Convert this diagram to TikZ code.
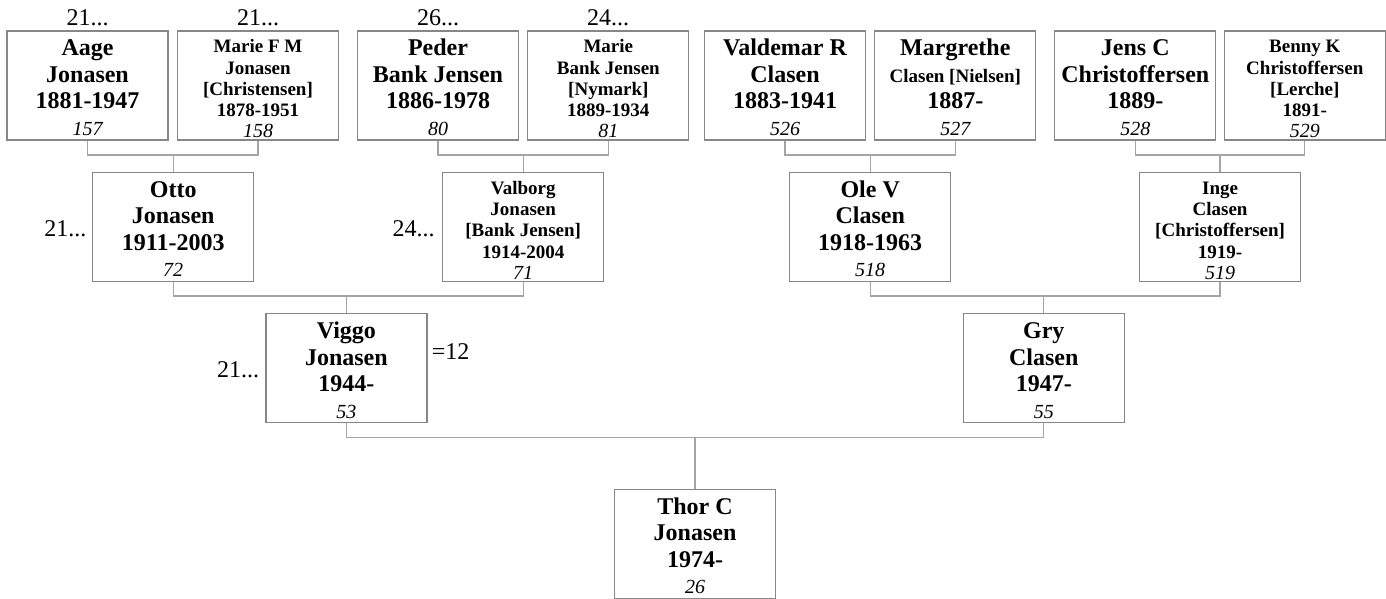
\documentclass[tikz,border=0pt]{standalone}
\usepackage{fontspec}
\setmainfont{Liberation Serif}

\definecolor{boxgray}{RGB}{135,135,135}
\definecolor{linkgray}{RGB}{165,165,165}

% struts and id numbers inside the boxes
\newcommand{\bigtop}{\rule{0pt}{25pt}}
\newcommand{\bigid}[1]{\rule[-4.5pt]{0pt}{4.5pt}{\fontsize{20}{24}\selectfont\mdseries\itshape #1}}
\newcommand{\smtop}{\rule{0pt}{22pt}}
\newcommand{\smid}[1]{\rule[-2.2pt]{0pt}{2.2pt}{\fontsize{20}{24}\selectfont\mdseries\itshape #1}}
\newcommand{\smline}[1]{{\fontsize{19}{21}\selectfont #1}}

\tikzset{every picture/.style={line width=1.3pt}}
\tikzset{
  person/.style={draw=boxgray, minimum width=161pt, minimum height=109pt, inner sep=0pt, align=center, font=\fontsize{24}{26.5}\selectfont\bfseries},
  smallperson/.style={person, font=\fontsize{19}{21.2}\selectfont\bfseries},
  link/.style={draw=linkgray},
  tag/.style={inner sep=0pt, font=\fontsize{24}{28}\selectfont}
}

\begin{document}
\begin{tikzpicture}[x=1pt,y=1pt,yscale=-1,xscale=1]
\useasboundingbox (0,0) rectangle (1386,599);

%Row 1: grandparents
\node[person] (aage) at (87.5,85.4) {\bigtop Aage\\Jonasen\\1881-1947\\\bigid{157}};
\node[smallperson] (mariefm) at (258,85.4) {\smtop Marie F M\\Jonasen\\{[Christensen]}\\1878-1951\\\smid{158}};
\node[person] (peder) at (438,85.4) {\bigtop Peder\\Bank Jensen\\1886-1978\\\bigid{80}};
\node[smallperson] (marieb) at (608.3,85.4) {\smtop Marie\\Bank Jensen\\{[Nymark]}\\1889-1934\\\smid{81}};
\node[person] (valdemar) at (785,85.4) {\bigtop Valdemar R\\Clasen\\1883-1941\\\bigid{526}};
\node[person] (margrethe) at (955.3,85.4) {\bigtop Margrethe\\\smline{Clasen [Nielsen]}\\1887-\\\bigid{527}};
\node[person] (jens) at (1135.3,85.4) {\bigtop Jens C\\Christoffersen\\1889-\\\bigid{528}};
\node[smallperson] (benny) at (1304.8,85.4) {\smtop Benny K\\Christoffersen\\{[Lerche]}\\1891-\\\smid{529}};

%Row 2: parents
\node[person] (otto) at (173.2,226.9) {\bigtop Otto\\Jonasen\\1911-2003\\\bigid{72}};
\node[smallperson] (valborg) at (523.2,226.9) {\smtop Valborg\\Jonasen\\{[Bank Jensen]}\\1914-2004\\\smid{71}};
\node[person] (ole) at (870.2,226.9) {\bigtop Ole V\\Clasen\\1918-1963\\\bigid{518}};
\node[smallperson] (inge) at (1220.1,226.9) {\smtop Inge\\Clasen\\{[Christoffersen]}\\1919-\\\smid{519}};

%Row 3
\node[person] (viggo) at (346.4,368) {\bigtop Viggo\\Jonasen\\1944-\\\bigid{53}};
\node[person] (gry) at (1043.8,368) {\bigtop Gry\\Clasen\\1947-\\\bigid{55}};

%Row 4
\node[person] (thor) at (695,543.7) {\bigtop Thor C\\Jonasen\\1974-\\\bigid{26}};

% Text Node
\node[tag, anchor=base] (t1) at (87.5,25.5) {21...};
\node[tag, anchor=base] (t2) at (258,25.5) {21...};
\node[tag, anchor=base] (t3) at (438,25.5) {26...};
\node[tag, anchor=base] (t4) at (608,25.5) {24...};
\node[tag, anchor=base east] (t5) at (87,236) {21...};
\node[tag, anchor=base east] (t6) at (435.2,236) {24...};
\node[tag, anchor=base east] (t7) at (259.7,377) {21...};
\node[tag, anchor=base west] (t8) at (431.3,359) {=12};

%Connectors
\path (otto.north) ++(0,-16.7) coordinate (j1);
\draw[link] (aage.south) |- (j1) -| (mariefm.south);
\draw[link] (j1) -- (otto.north);
\path (valborg.north) ++(0,-16.7) coordinate (j2);
\draw[link] (peder.south) |- (j2) -| (marieb.south);
\draw[link] (j2) -- (valborg.north);
\path (ole.north) ++(0,-16.7) coordinate (j3);
\draw[link] (valdemar.south) |- (j3) -| (margrethe.south);
\draw[link] (j3) -- (ole.north);
\path (inge.north) ++(0,-16.7) coordinate (j4);
\draw[link] (jens.south) |- (j4) -| (benny.south);
\draw[link] (j4) -- (inge.north);
\path (viggo.north) ++(0,-16.8) coordinate (j5);
\draw[link] (otto.south) |- (j5) -| (valborg.south);
\draw[link] (j5) -- (viggo.north);
\path (gry.north) ++(0,-16.8) coordinate (j6);
\draw[link] (ole.south) |- (j6) -| (inge.south);
\draw[link] (j6) -- (gry.north);
\path (thor.north) ++(0,-50.9) coordinate (j7);
\draw[link] (viggo.south) |- (j7) -| (gry.south);
\draw[link] (j7) -- (thor.north);

\end{tikzpicture}
\end{document}
